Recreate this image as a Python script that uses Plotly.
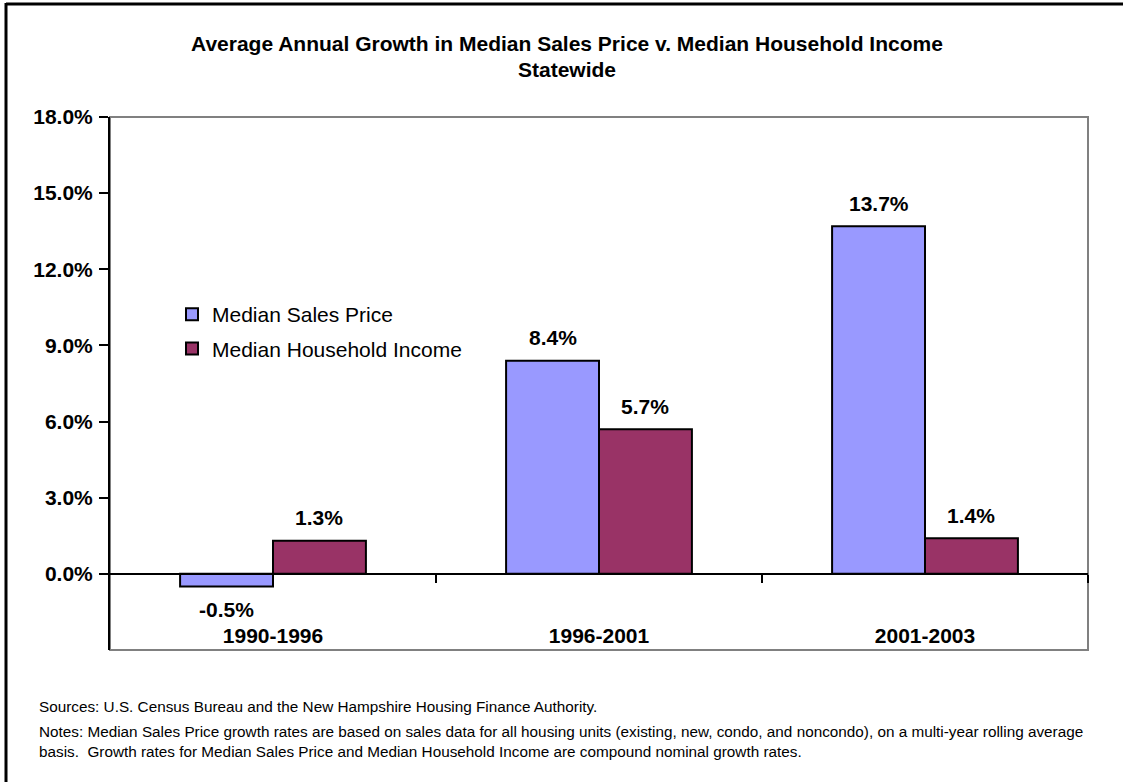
import plotly.graph_objects as go

# Chart data
periods = ["1990-1996", "1996-2001", "2001-2003"]
sales_price_growth = [-0.5, 8.4, 13.7]
household_income_growth = [1.3, 5.7, 1.4]
series_names = ["Median Sales Price", "Median Household Income"]
y_ticks = [-3, 0, 3, 6, 9, 12, 15, 18]

title_line1 = "Average Annual Growth in Median Sales Price v. Median Household Income"
title_line2 = "Statewide"
source_note = "Sources: U.S. Census Bureau and the New Hampshire Housing Finance Authority."
notes_line1 = ("Notes: Median Sales Price growth rates are based on sales data for all housing units "
               "(existing, new, condo, and noncondo), on a multi-year rolling average")
notes_line2 = ("basis.  Growth rates for Median Sales Price and Median Household Income are "
               "compound nominal growth rates.")

FONT = "Arial, Liberation Sans, sans-serif"
BLUE = "#9999FF"
MAROON = "#993366"

W, H = 1123, 782
ML, MR, MT, MB = 110, 35, 117, 132
plot_w = W - ML - MR
plot_h = H - MT - MB
BARGAP = 0.43


def px_to_paper_x(px):
    return (px - ML) / plot_w


def px_to_paper_y(py):
    return (H - MB - py) / plot_h


fig = go.Figure()
fig.add_trace(go.Bar(
    x=periods, y=sales_price_growth, name=series_names[0],
    marker=dict(color=BLUE, line=dict(color="black", width=2)),
    legendgroup="a", hoverinfo="skip",
))
fig.add_trace(go.Bar(
    x=periods, y=household_income_growth, name=series_names[1],
    marker=dict(color=MAROON, line=dict(color="black", width=2)),
    legendgroup="b", hoverinfo="skip",
))
# empty trace so the y = 0 axis (x2) gets drawn
fig.add_trace(go.Scatter(x=[], y=[], xaxis="x2", yaxis="y", showlegend=False, hoverinfo="skip"))

# Value labels above (or below, for negatives) each bar
cat_px = plot_w / len(periods)
bar_px = cat_px * (1 - BARGAP) / 2
annotations = []
for vals, shift in ((sales_price_growth, -bar_px / 2), (household_income_growth, bar_px / 2)):
    for cat, v in zip(periods, vals):
        annotations.append(dict(
            x=cat, y=v, xref="x", yref="y", text=f"{v:.1f}%", showarrow=False,
            xshift=shift, yshift=23 if v >= 0 else -23, yanchor="middle",
            font=dict(family=FONT, size=21, color="black", weight="bold"),
        ))

# Title lines
for text, py in ((title_line1, 43), (title_line2, 70)):
    annotations.append(dict(
        x=px_to_paper_x(567), y=px_to_paper_y(py), xref="paper", yref="paper",
        text=f"<b>{text}</b>", showarrow=False, xanchor="center", yanchor="middle",
        font=dict(family=FONT, size=21, color="black"),
    ))

# Footnotes
for text, py in ((source_note, 706), (notes_line1, 731), (notes_line2, 751)):
    annotations.append(dict(
        x=px_to_paper_x(37), y=px_to_paper_y(py), xref="paper", yref="paper", text=text,
        showarrow=False, xanchor="left", yanchor="middle",
        font=dict(family=FONT, size=15.3, color="black"),
    ))

shapes = [
    # grey frame of the plotting area
    dict(type="rect", xref="paper", yref="paper", x0=0, y0=0, x1=1, y1=1,
         line=dict(color="#808080", width=2), layer="below"),
    # outer frame of the chart (top and left edges)
    dict(type="line", xref="paper", yref="paper",
         x0=px_to_paper_x(6), x1=px_to_paper_x(W + 5), y0=px_to_paper_y(4), y1=px_to_paper_y(4),
         line=dict(color="black", width=3)),
    dict(type="line", xref="paper", yref="paper",
         x0=px_to_paper_x(6), x1=px_to_paper_x(6), y0=px_to_paper_y(3), y1=px_to_paper_y(H + 5),
         line=dict(color="black", width=3)),
]

y_min, y_max = y_ticks[0], y_ticks[-1]

fig.update_layout(
    width=W, height=H,
    margin=dict(l=ML, r=MR, t=MT, b=MB),
    paper_bgcolor="white", plot_bgcolor="white",
    barmode="group", bargap=BARGAP, bargroupgap=0,
    font=dict(family=FONT, color="black"),
    showlegend=True,
    legend=dict(
        x=px_to_paper_x(172), y=px_to_paper_y(294), xanchor="left", yanchor="top",
        font=dict(family=FONT, size=21, color="black"),
        bgcolor="rgba(0,0,0,0)", tracegroupgap=4, itemclick=False,
    ),
    xaxis=dict(
        type="category", showline=False, ticks="", showgrid=False, zeroline=False,
        ticklabelposition="inside",
        tickfont=dict(family=FONT, size=21, color="black", weight="bold"),
    ),
    # axis drawn along y = 0 carrying the category boundary ticks
    xaxis2=dict(
        overlaying="x", anchor="free", position=(0 - y_min) / (y_max - y_min),
        range=[-0.5, len(periods) - 0.5], tickmode="array",
        tickvals=[i + 0.5 for i in range(len(periods))],
        ticks="outside", ticklen=8, tickwidth=2, tickcolor="black",
        showline=True, linecolor="black", linewidth=2,
        showticklabels=False, showgrid=False, zeroline=False,
        layer="above traces",
    ),
    yaxis=dict(
        range=[y_min, y_max], tickmode="array", tickvals=y_ticks,
        ticktext=[f"{v:.1f}%" for v in y_ticks],
        showline=True, linecolor="black", linewidth=2,
        ticks="outside", ticklen=9, tickwidth=2, tickcolor="black",
        ticklabelstandoff=2,
        showgrid=False, zeroline=False,
        tickfont=dict(family=FONT, size=21, color="black", weight="bold"),
    ),
    annotations=annotations,
    shapes=shapes,
)

fig.write_html("out.html")
